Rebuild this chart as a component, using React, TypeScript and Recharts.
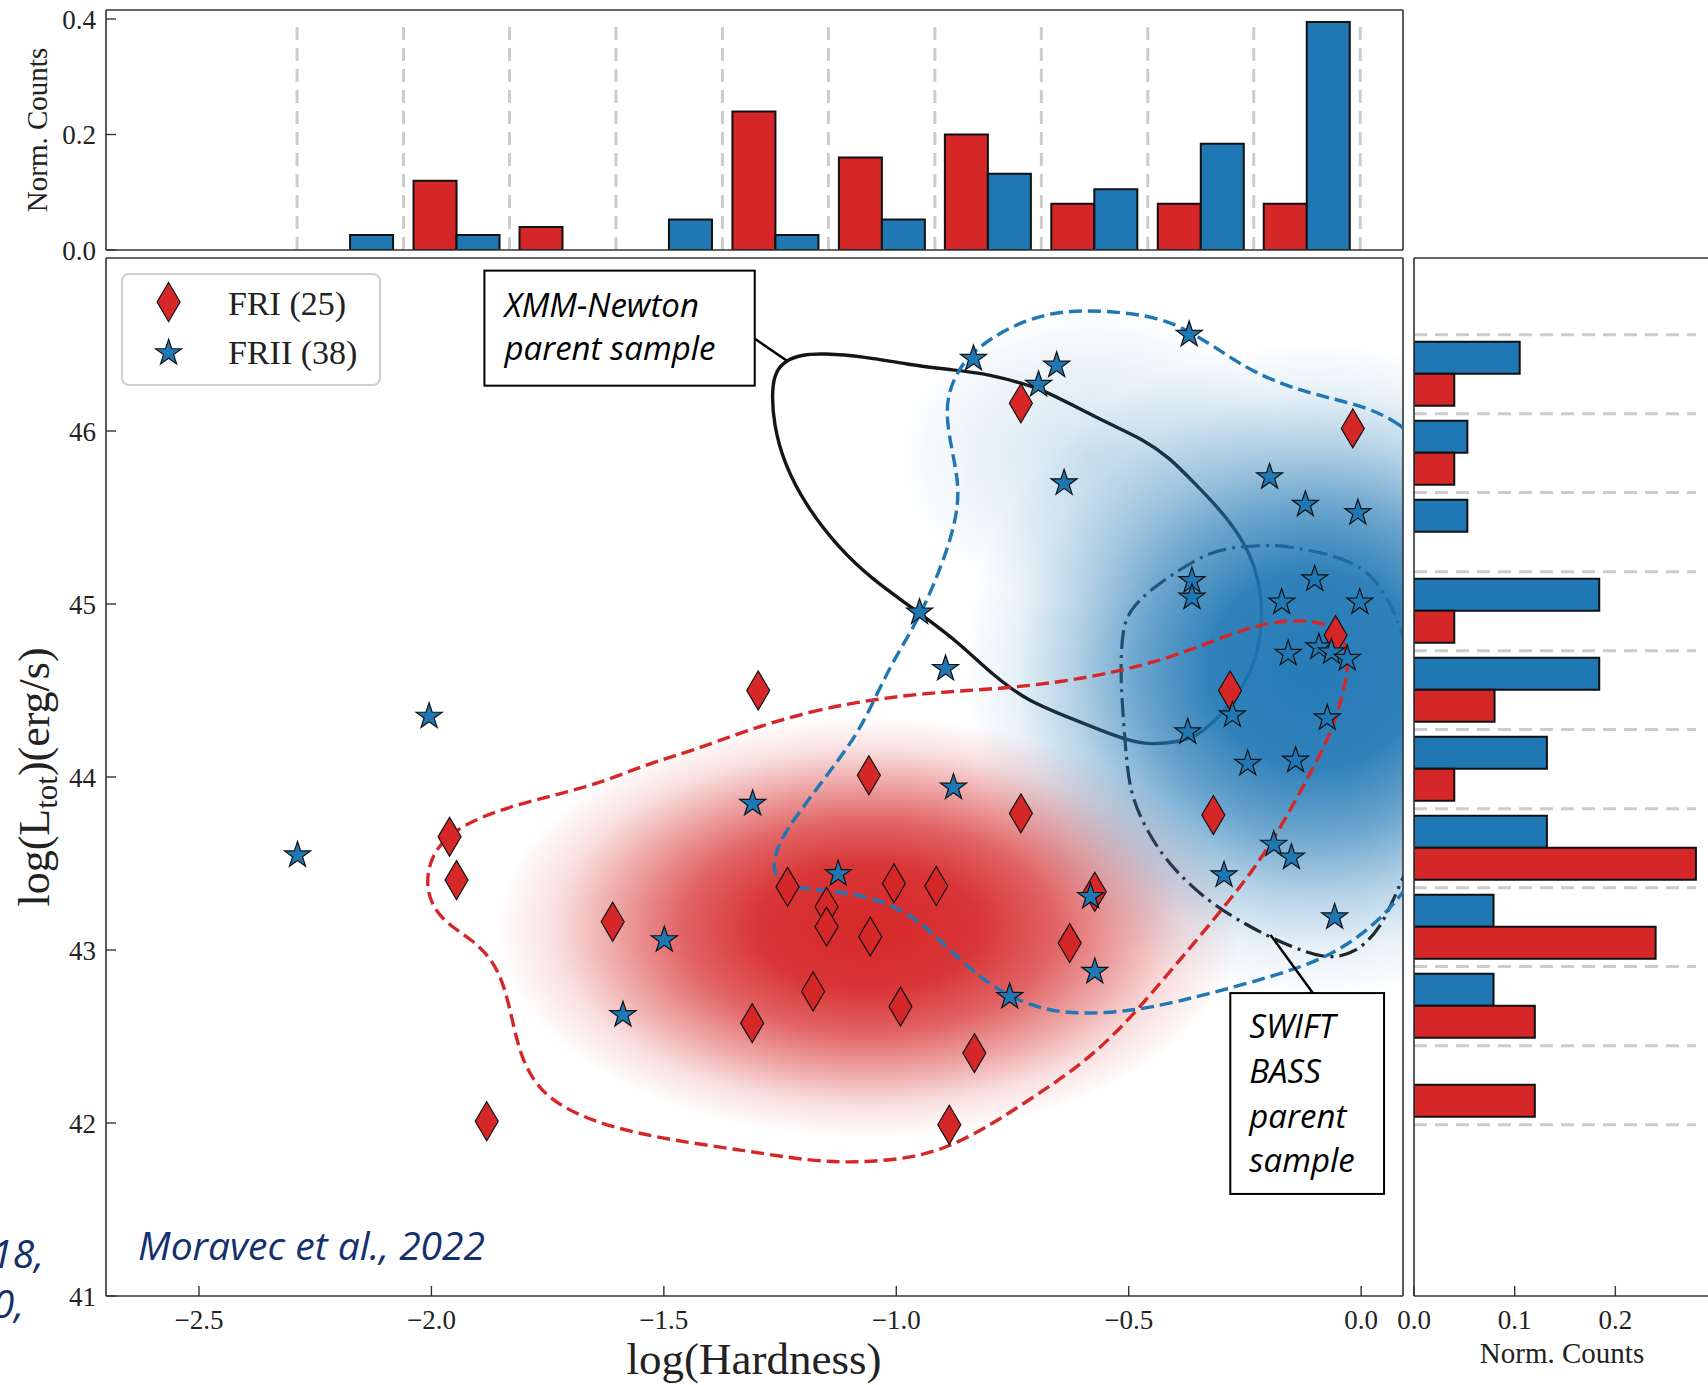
import React from "react";
import {
  Bar,
  BarChart,
  ReferenceArea,
  ReferenceLine,
  Scatter,
  ScatterChart,
  XAxis,
  YAxis,
} from "recharts";

const RED = "#d62728";
const BLUE = "#1f77b4";
const EDGE = "#111111";
const SPINE = "#333333";
const GRID = "#cccccc";
const NAVY = "#14306e";
const SERIF = "'Liberation Serif', 'DejaVu Serif', serif";
const SANS = "'Open Sans', 'Noto Sans', sans-serif";

// FRI sources: log(Hardness), log(L_tot)
const FRI_HARDNESS = [
  -0.732, -0.018, -0.055, -0.282, -1.297, -1.059, -0.732, -0.318, -1.961, -1.946,
  -1.234, -1.15, -1.15, -1.005, -0.914, -1.056, -1.61, -0.573, -0.627, -1.179,
  -0.991, -1.31, -0.832, -0.886, -1.881,
];
const FRI_LUM = [
  46.16, 46.015, 44.82, 44.5, 44.5, 44.01, 43.79, 43.78, 43.654, 43.404,
  43.365, 43.25, 43.135, 43.385, 43.37, 43.077, 43.163, 43.337, 43.04, 42.76,
  42.673, 42.577, 42.404, 41.99, 42.01,
];

// FRII sources
const FRII_HARDNESS = [
  -0.37, -0.834, -0.655, -0.694, -0.639, -0.197, -0.12, -0.007, -0.364, -0.364,
  -0.1, -0.171, -0.003, -0.95, -0.157, -0.091, -0.064, -0.03, -0.894, -0.277,
  -0.373, -0.073, -0.244, -0.141, -2.005, -0.877, -1.309, -2.288, -1.125, -0.188,
  -0.15, -0.295, -0.582, -1.499, -0.573, -0.756, -1.588, -0.057,
];
const FRII_LUM = [
  46.557, 46.418, 46.379, 46.268, 45.699, 45.734, 45.575, 45.527, 45.134, 45.038,
  45.144, 45.01, 45.01, 44.952, 44.713, 44.751, 44.722, 44.684, 44.626, 44.358,
  44.26, 44.34, 44.077, 44.096, 44.35, 43.94, 43.846, 43.548, 43.44, 43.61,
  43.535, 43.433, 43.308, 43.058, 42.875, 42.73, 42.625, 43.19,
];

// top histogram (log Hardness bins)
const TOP_BIN_CENTERS = [-2.175, -1.946, -1.718, -1.489, -1.26, -1.031, -0.803, -0.574, -0.345, -0.117];
const TOP_BIN_EDGES = [-2.289, -2.06, -1.832, -1.603, -1.374, -1.146, -0.917, -0.688, -0.459, -0.231, -0.002];
const TOP_FRI = [0, 0.12, 0.04, 0, 0.24, 0.16, 0.2, 0.08, 0.08, 0.08];
const TOP_FRII = [0.026, 0.026, 0, 0.053, 0.026, 0.053, 0.132, 0.105, 0.184, 0.395];

// right histogram (log L_tot bins)
const RIGHT_BIN_CENTERS = [46.329, 45.872, 45.415, 44.959, 44.502, 44.045, 43.589, 43.132, 42.675, 42.219];
const RIGHT_BIN_EDGES = [46.557, 46.1, 45.644, 45.187, 44.73, 44.274, 43.817, 43.36, 42.904, 42.447, 41.99];
const RIGHT_FRI = [0.04, 0.04, 0, 0.04, 0.08, 0.04, 0.28, 0.24, 0.12, 0.12];
const RIGHT_FRII = [0.105, 0.053, 0.053, 0.184, 0.184, 0.132, 0.132, 0.079, 0.079, 0];

// density contours (x = log Hardness, y = log L_tot)
const FRII_CONTOUR: [number, number][] = [
  [0.2, 45.7], [0.086, 46.08], [-0.05, 46.18], [-0.141, 46.24], [-0.232, 46.34], [-0.295, 46.45],
  [-0.359, 46.56], [-0.432, 46.66], [-0.559, 46.7], [-0.668, 46.69], [-0.759, 46.6], [-0.832, 46.47],
  [-0.868, 46.35], [-0.891, 46.2], [-0.891, 46.04], [-0.877, 45.85], [-0.864, 45.66], [-0.873, 45.47],
  [-0.895, 45.28], [-0.923, 45.09], [-0.95, 44.93], [-0.982, 44.78], [-1.023, 44.59], [-1.077, 44.27],
  [-1.141, 44.04], [-1.205, 43.81], [-1.255, 43.62], [-1.268, 43.46], [-1.245, 43.375], [-1.186, 43.35],
  [-1.095, 43.33], [-1.014, 43.27], [-0.941, 43.15], [-0.886, 43.0], [-0.823, 42.85], [-0.759, 42.73],
  [-0.668, 42.64], [-0.568, 42.63], [-0.459, 42.66], [-0.323, 42.75], [-0.186, 42.85], [-0.068, 42.96],
  [0.023, 43.13], [0.086, 43.31], [0.16, 43.6], [0.22, 44.3], [0.24, 45.0],
];
const FRI_CONTOUR: [number, number][] = [
  [-1.322, 44.27], [-1.186, 44.38], [-1.05, 44.45], [-0.914, 44.49], [-0.777, 44.51], [-0.641, 44.55],
  [-0.523, 44.61], [-0.423, 44.68], [-0.323, 44.78], [-0.232, 44.875], [-0.15, 44.91], [-0.077, 44.895],
  [-0.041, 44.82], [-0.027, 44.7], [-0.032, 44.55], [-0.062, 44.26], [-0.114, 44.0], [-0.168, 43.73],
  [-0.232, 43.46], [-0.295, 43.25], [-0.359, 43.04], [-0.432, 42.81], [-0.505, 42.58], [-0.595, 42.35],
  [-0.704, 42.15], [-0.814, 41.96], [-0.886, 41.865], [-0.959, 41.8], [-1.077, 41.77], [-1.186, 41.78],
  [-1.323, 41.84], [-1.485, 41.9], [-1.622, 41.98], [-1.712, 42.08], [-1.767, 42.19], [-1.803, 42.35],
  [-1.822, 42.54], [-1.84, 42.77], [-1.867, 42.94], [-1.912, 43.06], [-1.967, 43.15], [-2.003, 43.27],
  [-2.012, 43.42], [-1.994, 43.58], [-1.949, 43.69], [-1.894, 43.77], [-1.803, 43.85], [-1.712, 43.91],
  [-1.622, 43.98], [-1.531, 44.08], [-1.44, 44.15],
];
const XMM_CONTOUR: [number, number][] = [
  [-1.268, 46.24], [-1.259, 46.35], [-1.236, 46.41], [-1.205, 46.44], [-1.159, 46.45], [-1.068, 46.43],
  [-0.977, 46.385], [-0.886, 46.355], [-0.814, 46.335], [-0.741, 46.285], [-0.686, 46.24], [-0.614, 46.14],
  [-0.541, 46.04], [-0.468, 45.95], [-0.414, 45.85], [-0.359, 45.7], [-0.305, 45.55], [-0.259, 45.39],
  [-0.228, 45.22], [-0.215, 45.05], [-0.213, 44.9], [-0.222, 44.72], [-0.25, 44.53], [-0.3, 44.36],
  [-0.35, 44.24], [-0.39, 44.204], [-0.455, 44.185], [-0.505, 44.214], [-0.562, 44.272], [-0.634, 44.349],
  [-0.72, 44.445], [-0.777, 44.56], [-0.814, 44.645], [-0.868, 44.78], [-0.932, 44.91], [-0.977, 45.0],
  [-1.05, 45.14], [-1.123, 45.32], [-1.195, 45.57], [-1.241, 45.81], [-1.264, 46.04],
];
const BASS_CONTOUR: [number, number][] = [
  [-0.159, 45.335], [-0.05, 45.28], [0.023, 45.18], [0.068, 44.99], [0.12, 44.6], [0.14, 44.0],
  [0.12, 43.6], [0.082, 43.37], [0.041, 43.115], [-0.014, 42.98], [-0.068, 42.95], [-0.123, 42.99],
  [-0.186, 43.06], [-0.25, 43.15], [-0.323, 43.27], [-0.395, 43.44], [-0.45, 43.63], [-0.495, 43.88],
  [-0.505, 44.1], [-0.512, 44.35], [-0.518, 44.6], [-0.514, 44.85], [-0.498, 44.965], [-0.455, 45.08],
  [-0.39, 45.2], [-0.333, 45.29], [-0.276, 45.33], [-0.2, 45.34],
];

const X_DOMAIN: [number, number] = [-2.7, 0.09];
const Y_DOMAIN: [number, number] = [41, 47];
const X_TICKS = [-2.5, -2, -1.5, -1, -0.5, 0];
const Y_TICKS = [41, 42, 43, 44, 45, 46];

const friPoints = FRI_HARDNESS.map((x, i) => ({ x, y: FRI_LUM[i] }));
const friiPoints = FRII_HARDNESS.map((x, i) => ({ x, y: FRII_LUM[i] }));
const toXY = (pairs: [number, number][]) => pairs.map(([x, y]) => ({ x, y }));
const topRows = TOP_BIN_CENTERS.map((x, i) => ({ x, fri: TOP_FRI[i], frii: TOP_FRII[i] }));
const rightRows = RIGHT_BIN_CENTERS.map((y, i) => ({ y, fri: RIGHT_FRI[i], frii: RIGHT_FRII[i] }));
const topLineMax = Math.max(...TOP_FRII, ...TOP_FRI);
const rightLineMax = Math.max(...RIGHT_FRII, ...RIGHT_FRI);

// smooth approximations of the two KDE images (centre, radii in data units)
const KDE_BLOBS = [
  { id: "kdeRed", cx: -1.06, cy: 43.13, rx: 0.8, ry: 1.22 },
  { id: "kdeBlueFaint", cx: -0.58, cy: 45.85, rx: 0.42, ry: 0.85 },
  { id: "kdeBlue", cx: -0.1, cy: 44.62, rx: 0.76, ry: 1.9 },
];

const axisLine = { stroke: SPINE, strokeWidth: 1.6 };
const tickLine = { stroke: SPINE, strokeWidth: 1.4 };
const tickFont = { fontFamily: SERIF, fontSize: 27, fill: "#222" };
const noMargin = { top: 0, right: 0, bottom: 0, left: 0 };

const fmtHard = (v: number) => (v === 0 ? "0.0" : `\u2212${Math.abs(v).toFixed(1)}`);
const fmt1 = (v: number) => v.toFixed(1);

function diamondPoints(cx: number, cy: number) {
  return `${cx},${cy - 19.5} ${cx + 11.5},${cy} ${cx},${cy + 19.5} ${cx - 11.5},${cy}`;
}

function starPoints(cx: number, cy: number, R = 13.7, r = 5.3) {
  const pts: string[] = [];
  for (let i = 0; i < 10; i++) {
    const a = -Math.PI / 2 + (i * Math.PI) / 5;
    const rad = i % 2 === 0 ? R : r;
    pts.push(`${(cx + rad * Math.cos(a)).toFixed(2)},${(cy + rad * Math.sin(a)).toFixed(2)}`);
  }
  return pts.join(" ");
}

const DiamondMark = (p: any) => (
  <polygon points={diamondPoints(p.cx, p.cy)} fill={RED} stroke={EDGE} strokeWidth={1.2} />
);
const StarMark = (p: any) => (
  <polygon points={starPoints(p.cx, p.cy)} fill={BLUE} stroke={EDGE} strokeWidth={1.2} />
);
const NoMark = () => <g />;

function Blob(p: any, id: string) {
  return (
    <ellipse
      cx={p.x + p.width / 2}
      cy={p.y + p.height / 2}
      rx={Math.abs(p.width) / 2}
      ry={Math.abs(p.height) / 2}
      fill={`url(#${id})`}
      clipPath={p.clipPath}
    />
  );
}

function NoteBox(p: any, lines: string[], pad: number, baselines: number[]) {
  return (
    <g>
      <rect x={p.x} y={p.y} width={p.width} height={p.height} fill="#fff" stroke="#000" strokeWidth={2} />
      {lines.map((t, i) => (
        <text
          key={t}
          x={p.x + pad}
          y={p.y + baselines[i]}
          fontFamily={SANS}
          fontStyle="italic"
          fontSize={33}
          fill="#000"
        >
          {t}
        </text>
      ))}
    </g>
  );
}

function TopHistogram() {
  // plot area: x 106..1403, y 10..250
  return (
    <div style={{ position: "absolute", left: 6, top: -6 }}>
      <BarChart width={1398} height={292} data={topRows} margin={noMargin} barGap={0} barSize={43}>
        <XAxis
          type="number"
          dataKey="x"
          domain={X_DOMAIN}
          allowDataOverflow
          ticks={X_TICKS}
          interval={0}
          height={36}
          tickSize={-10}
          axisLine={axisLine}
          tickLine={tickLine}
          tick={false}
        />
        <XAxis xAxisId="top" orientation="top" type="number" domain={X_DOMAIN} allowDataOverflow height={16} axisLine={axisLine} tickLine={false} tick={false} />
        <YAxis
          type="number"
          domain={[0, 0.4156]}
          allowDataOverflow
          ticks={[0, 0.2, 0.4]}
          interval={0}
          width={100}
          tickSize={-10}
          tickMargin={20}
          axisLine={axisLine}
          tickLine={tickLine}
          tick={tickFont}
          tickFormatter={fmt1}
        />
        <YAxis yAxisId="right" orientation="right" type="number" domain={[0, 0.4156]} allowDataOverflow width={1} axisLine={axisLine} tickLine={false} tick={false} />
        {TOP_BIN_EDGES.map((e) => (
          <ReferenceLine
            key={e}
            segment={[{ x: e, y: 0 }, { x: e, y: topLineMax }]}
            stroke={GRID}
            strokeWidth={3}
            strokeDasharray="13 8"
          />
        ))}
        <Bar dataKey="fri" fill={RED} stroke={EDGE} strokeWidth={2} isAnimationActive={false} />
        <Bar dataKey="frii" fill={BLUE} stroke={EDGE} strokeWidth={2} isAnimationActive={false} />
      </BarChart>
    </div>
  );
}

function RightHistogram() {
  // plot area: x 1414..1710, y 258..1296
  return (
    <div style={{ position: "absolute", left: 1384, top: 257 }}>
      <BarChart layout="vertical" width={326} height={1099} data={rightRows} margin={noMargin} barGap={0} barSize={32}>
        <XAxis
          type="number"
          domain={[0, 0.294]}
          allowDataOverflow
          ticks={[0, 0.1, 0.2]}
          interval={0}
          height={60}
          tickSize={-10}
          tickMargin={24}
          axisLine={axisLine}
          tickLine={tickLine}
          tick={tickFont}
          tickFormatter={fmt1}
        />
        <XAxis xAxisId="top" orientation="top" type="number" domain={[0, 0.294]} allowDataOverflow height={1} axisLine={axisLine} tickLine={false} tick={false} />
        <YAxis
          type="number"
          dataKey="y"
          domain={Y_DOMAIN}
          allowDataOverflow
          reversed
          ticks={Y_TICKS}
          interval={0}
          width={30}
          tickSize={-10}
          axisLine={axisLine}
          tickLine={tickLine}
          tick={false}
        />
        {RIGHT_BIN_EDGES.map((e) => (
          <ReferenceLine
            key={e}
            segment={[{ x: 0, y: e }, { x: rightLineMax, y: e }]}
            stroke={GRID}
            strokeWidth={3}
            strokeDasharray="13 8"
          />
        ))}
        <Bar dataKey="frii" fill={BLUE} stroke={EDGE} strokeWidth={2} isAnimationActive={false} />
        <Bar dataKey="fri" fill={RED} stroke={EDGE} strokeWidth={2} isAnimationActive={false} />
      </BarChart>
    </div>
  );
}

function MainScatter() {
  // plot area: x 106..1403, y 258..1296
  return (
    <div style={{ position: "absolute", left: 6, top: 257 }}>
      <ScatterChart width={1398} height={1099} margin={noMargin}>
        <XAxis
          type="number"
          dataKey="x"
          domain={X_DOMAIN}
          allowDataOverflow
          ticks={X_TICKS}
          interval={0}
          height={60}
          tickSize={-10}
          tickMargin={24}
          axisLine={axisLine}
          tickLine={tickLine}
          tick={tickFont}
          tickFormatter={fmtHard}
        />
        <XAxis xAxisId="top" orientation="top" type="number" domain={X_DOMAIN} allowDataOverflow ticks={X_TICKS} interval={0} height={1} tickSize={-10} axisLine={axisLine} tickLine={tickLine} tick={false} />
        <YAxis
          type="number"
          dataKey="y"
          domain={Y_DOMAIN}
          allowDataOverflow
          ticks={Y_TICKS}
          interval={0}
          width={100}
          tickSize={-10}
          tickMargin={20}
          axisLine={axisLine}
          tickLine={tickLine}
          tick={tickFont}
        />
        <YAxis yAxisId="right" orientation="right" type="number" domain={Y_DOMAIN} allowDataOverflow ticks={Y_TICKS} interval={0} width={1} tickSize={-10} axisLine={axisLine} tickLine={tickLine} tick={false} />

        {/* parent-sample contours sit under the density shading */}
        <Scatter
          data={toXY(XMM_CONTOUR)}
          shape={NoMark}
          line={{ stroke: "#151515", strokeWidth: 3.4 }}
          lineJointType="basisClosed"
          legendType="none"
          zIndex={50}
          isAnimationActive={false}
        />
        <Scatter
          data={toXY(BASS_CONTOUR)}
          shape={NoMark}
          line={{ stroke: "#1c1c1c", strokeWidth: 3.2, strokeDasharray: "19 6 3 6" }}
          lineJointType="basisClosed"
          legendType="none"
          zIndex={50}
          isAnimationActive={false}
        />

        {KDE_BLOBS.map((b) => (
          <ReferenceArea
            key={b.id}
            x1={b.cx - b.rx}
            x2={b.cx + b.rx}
            y1={b.cy - b.ry}
            y2={b.cy + b.ry}
            ifOverflow="hidden"
            zIndex={100}
            shape={(p: any) => Blob(p, b.id)}
          />
        ))}

        <Scatter
          data={toXY(FRI_CONTOUR)}
          shape={NoMark}
          line={{ stroke: RED, strokeWidth: 3.4, strokeDasharray: "13 6" }}
          lineJointType="basisClosed"
          legendType="none"
          isAnimationActive={false}
        />
        <Scatter
          data={toXY(FRII_CONTOUR)}
          shape={NoMark}
          line={{ stroke: BLUE, strokeWidth: 3.4, strokeDasharray: "13 6" }}
          lineJointType="basisClosed"
          legendType="none"
          isAnimationActive={false}
        />

        <Scatter data={friPoints} shape={DiamondMark} legendType="none" isAnimationActive={false} />
        <Scatter data={friiPoints} shape={StarMark} legendType="none" isAnimationActive={false} />

        <ReferenceArea
          x1={-1.886}
          x2={-1.3045}
          y1={46.262}
          y2={46.927}
          ifOverflow="visible"
          zIndex={700}
          shape={(p: any) => NoteBox(p, ["XMM-Newton", "parent sample"], 20, [46, 89])}
        />
        <ReferenceLine
          segment={[{ x: -1.3045, y: 46.533 }, { x: -1.236, y: 46.408 }]}
          stroke="#000"
          strokeWidth={2.5}
          ifOverflow="visible"
          zIndex={700}
        />
        <ReferenceArea
          x1={-0.2815}
          x2={0.0492}
          y1={41.59}
          y2={42.751}
          ifOverflow="visible"
          zIndex={700}
          shape={(p: any) => NoteBox(p, ["SWIFT", "BASS", "parent", "sample"], 19, [45, 90, 135, 179])}
        />
        <ReferenceLine
          segment={[{ x: -0.104, y: 42.751 }, { x: -0.195, y: 43.087 }]}
          stroke="#000"
          strokeWidth={2.5}
          ifOverflow="visible"
          zIndex={700}
        />
      </ScatterChart>
    </div>
  );
}

function gradientStops(color: string, stops: [number, number][]) {
  return stops.map(([o, a]) => <stop key={o} offset={o} stopColor={color} stopOpacity={a} />);
}

function Overlay() {
  return (
    <svg
      width={1708}
      height={1385}
      style={{ position: "absolute", left: 0, top: 0, pointerEvents: "none" }}
    >
      <defs>
        <radialGradient id="kdeRed" cx="50%" cy="50%" r="50%">
          {gradientStops(RED, [[0, 1], [0.3, 0.93], [0.5, 0.72], [0.68, 0.42], [0.84, 0.15], [1, 0]])}
        </radialGradient>
        <radialGradient id="kdeBlue" cx="50%" cy="50%" r="50%">
          {gradientStops(BLUE, [[0, 0.97], [0.3, 0.92], [0.5, 0.66], [0.68, 0.34], [0.85, 0.1], [1, 0]])}
        </radialGradient>
        <radialGradient id="kdeBlueFaint" cx="50%" cy="50%" r="50%">
          {gradientStops(BLUE, [[0, 0.2], [0.6, 0.09], [1, 0]])}
        </radialGradient>
      </defs>

      {/* legend */}
      <rect x={122} y={274} width={258} height={111} rx={7} fill="#fff" fillOpacity={0.8} stroke="#cfcfcf" strokeWidth={2} />
      <polygon points={diamondPoints(168.6, 302)} fill={RED} stroke={EDGE} strokeWidth={1.2} />
      <polygon points={starPoints(168.6, 353)} fill={BLUE} stroke={EDGE} strokeWidth={1.2} />
      <text x={228} y={315} fontFamily={SERIF} fontSize={34} fill="#222">FRI (25)</text>
      <text x={228} y={364} fontFamily={SERIF} fontSize={34} fill="#222">FRII (38)</text>

      {/* axis titles */}
      <text transform="translate(47,130) rotate(-90)" textAnchor="middle" fontFamily={SERIF} fontSize={29} fill="#222">
        Norm. Counts
      </text>
      <text transform="translate(49,777) rotate(-90)" textAnchor="middle" fontFamily={SERIF} fontSize={44} fill="#222">
        log(L<tspan fontSize={31} dy={8}>tot</tspan>
        <tspan dy={-8}>)(erg/s)</tspan>
      </text>
      <text x={754} y={1374} textAnchor="middle" fontFamily={SERIF} fontSize={45} fill="#222">
        log(Hardness)
      </text>
      <text x={1562} y={1363} textAnchor="middle" fontFamily={SERIF} fontSize={29} fill="#222">
        Norm. Counts
      </text>

      {/* slide citation */}
      <text x={138} y={1260} fontFamily={SANS} fontStyle="italic" fontSize={39} fill={NAVY}>
        Moravec et al., 2022
      </text>
      <text x={44} y={1268} textAnchor="end" fontFamily={SANS} fontStyle="italic" fontSize={39} fill={NAVY}>
        18,
      </text>
      <text x={24} y={1318} textAnchor="end" fontFamily={SANS} fontStyle="italic" fontSize={39} fill={NAVY}>
        0,
      </text>
    </svg>
  );
}

export default function App() {
  return (
    <div
      style={{
        position: "fixed",
        left: 0,
        top: 0,
        width: 1708,
        height: 1385,
        overflow: "hidden",
        background: "#fff",
      }}
    >
      <TopHistogram />
      <MainScatter />
      <RightHistogram />
      <Overlay />
    </div>
  );
}
